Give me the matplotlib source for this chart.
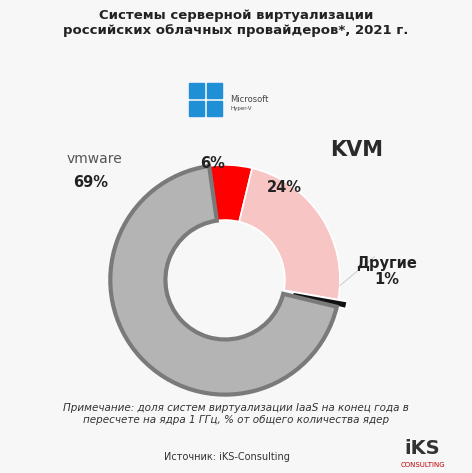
import matplotlib.pyplot as plt
from matplotlib.patches import Rectangle

labels = ['Microsoft Hyper-V', 'KVM', 'Другие', 'VMware']
values = [6, 24, 1, 69]
colors = ['#ff0000', '#f7c6c4', '#111111', '#b4b4b4']

fig = plt.figure(figsize=(4.72, 4.73), dpi=100)
fig.patch.set_facecolor('#f7f7f7')
ax = fig.add_axes([0.172, 0.105, 0.61, 0.607])
ax.set_facecolor('#f7f7f7')

wedges, _ = ax.pie(values, colors=colors, startangle=98, counterclock=False,
                   explode=[0, 0, 0.08, 0],
                   wedgeprops=dict(width=0.48, edgecolor='white', linewidth=1.2))
wedges[3].set_edgecolor('#7a7a7a')
wedges[3].set_linewidth(3)
ax.set_xlim(-1.25, 1.25)
ax.set_ylim(-1.25, 1.25)
ax.set_aspect('equal')
ax.axis('off')

fig.text(0.5, 0.982, 'Системы серверной виртуализации\nроссийских облачных провайдеров*, 2021 г.',
         ha='center', va='top', fontsize=9.5, fontweight='bold', color='#222222')

# percentage labels
fig.text(0.155, 0.605, '69%', fontsize=10.5, fontweight='bold', color='#222')
fig.text(0.425, 0.645, '6%', fontsize=10.5, fontweight='bold', color='#222')
fig.text(0.565, 0.595, '24%', fontsize=10.5, fontweight='bold', color='#222')
fig.text(0.82, 0.40, 'Другие\n1%', fontsize=10.5, fontweight='bold', color='#222',
         ha='center', linespacing=1.1)
ax.plot([1.0, 1.3], [-0.05, 0.2], color='#cccccc', lw=0.7, clip_on=False)

# logos (approximations)
fig.text(0.14, 0.655, 'vmware', fontsize=10, color='#555555')
for dx, dy in [(0, 0), (1, 0), (0, 1), (1, 1)]:
    fig.add_artist(Rectangle((0.400 + dx * 0.038, 0.755 + dy * 0.038), 0.032, 0.032,
                             transform=fig.transFigure, color='#1f8fd6'))
fig.text(0.488, 0.785, 'Microsoft', fontsize=6, color='#444')
fig.text(0.488, 0.768, 'Hyper-V', fontsize=4, color='#444')
fig.text(0.70, 0.67, 'KVM', fontsize=15, fontweight='bold', color='#2a2a2a')

fig.text(0.5, 0.125, 'Примечание: доля систем виртуализации IaaS на конец года в\n'
         'пересчете на ядра 1 ГГц, % от общего количества ядер',
         ha='center', va='center', fontsize=7.5, style='italic', color='#333')
fig.text(0.48, 0.028, 'Источник: iKS-Consulting', ha='center', fontsize=7, color='#333')
fig.text(0.895, 0.04, 'iKS', fontsize=14, fontweight='bold', color='#333', ha='center')
fig.text(0.895, 0.012, 'CONSULTING', fontsize=5, color='#c00000', ha='center')

fig.savefig('out.png', dpi=100, facecolor=fig.get_facecolor())
